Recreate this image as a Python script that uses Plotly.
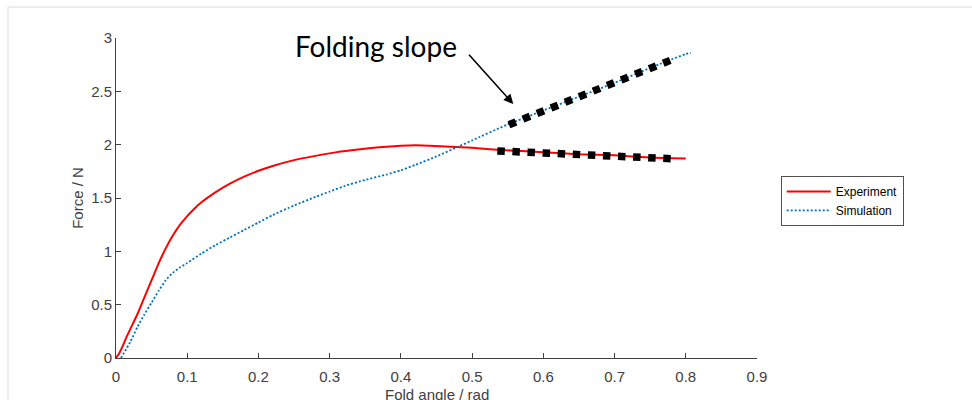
import plotly.graph_objects as go

# Experiment (red)
exp_x = [0, 0.005, 0.01, 0.015, 0.02, 0.03, 0.04, 0.05, 0.06, 0.07, 0.08, 0.09, 0.1, 0.11, 0.12,
         0.14, 0.16, 0.18, 0.2, 0.22, 0.25, 0.28, 0.31, 0.34, 0.37, 0.4, 0.42, 0.44, 0.47, 0.5,
         0.54, 0.6, 0.65, 0.7, 0.75, 0.8]
exp_y = [0, 0.05, 0.12, 0.2, 0.27, 0.41, 0.57, 0.73, 0.89, 1.03, 1.15, 1.25, 1.33, 1.4, 1.46,
         1.555, 1.635, 1.7, 1.755, 1.8, 1.855, 1.895, 1.93, 1.955, 1.975, 1.99, 1.995, 1.99, 1.98,
         1.97, 1.95, 1.93, 1.91, 1.9, 1.88, 1.87]

# Simulation (blue dotted)
sim_x = [0.007, 0.02, 0.03, 0.04, 0.05, 0.06, 0.07, 0.08, 0.09, 0.1, 0.12, 0.14, 0.16, 0.18, 0.2,
         0.22, 0.25, 0.28, 0.3, 0.32, 0.35, 0.38, 0.4, 0.42, 0.45, 0.48, 0.5, 0.55, 0.6, 0.65,
         0.7, 0.75, 0.8, 0.807]
sim_y = [0, 0.15, 0.29, 0.41, 0.52, 0.63, 0.73, 0.8, 0.85, 0.89, 0.98, 1.06, 1.13, 1.2, 1.27,
         1.34, 1.43, 1.51, 1.56, 1.61, 1.67, 1.72, 1.76, 1.81, 1.89, 1.98, 2.04, 2.19, 2.32, 2.45,
         2.58, 2.72, 2.85, 2.86]

# Folding slope segments (black square dots)
slope_sim_x = [0.5517, 0.7784]
slope_sim_y = [2.187, 2.791]
slope_exp_x = [0.5354, 0.7793]
slope_exp_y = [1.9416, 1.8684]

x_ticks = [0, 0.1, 0.2, 0.3, 0.4, 0.5, 0.6, 0.7, 0.8, 0.9]
x_tick_labels = ["0", "0.1", "0.2", "0.3", "0.4", "0.5", "0.6", "0.7", "0.8", "0.9"]
y_ticks = [0, 0.5, 1, 1.5, 2, 2.5, 3]
y_tick_labels = ["0", "0.5", "1", "1.5", "2", "2.5", "3"]

fig = go.Figure()
fig.add_trace(go.Scatter(x=exp_x, y=exp_y, mode="lines", name="Experiment",
                         line=dict(color="#FF0000", width=2, shape="spline", smoothing=0.5)))
fig.add_trace(go.Scatter(x=sim_x, y=sim_y, mode="lines", name="Simulation",
                         line=dict(color="#0072BD", width=1.8, dash="2px,2px",
                                   shape="spline", smoothing=0.5)))
fig.add_trace(go.Scatter(x=slope_sim_x, y=slope_sim_y, mode="lines", showlegend=False,
                         line=dict(color="black", width=7.5, dash="7.5px,7.6px")))
fig.add_trace(go.Scatter(x=slope_exp_x, y=slope_exp_y, mode="lines", showlegend=False,
                         line=dict(color="black", width=7.5, dash="7.5px,7.6px")))

axis_font = dict(family="Liberation Sans, Arial, sans-serif", size=15, color="#404040")

fig.update_layout(
    width=972, height=400,
    margin=dict(l=116, r=215, t=38, b=42, autoexpand=False),
    paper_bgcolor="white", plot_bgcolor="white",
    showlegend=True,
    legend=dict(x=1.037, y=0.569, xanchor="left", yanchor="top",
                bordercolor="#505050", borderwidth=1, bgcolor="white",
                font=dict(family="Liberation Sans, Arial, sans-serif", size=12, color="black"),
                tracegroupgap=0, itemwidth=44),
    xaxis=dict(range=[0, 0.9], tickvals=x_ticks, ticktext=x_tick_labels, automargin=False,
               showgrid=False, zeroline=False, showline=True, linecolor="#404040", linewidth=1,
               ticks="inside", ticklen=5, tickcolor="#404040", tickfont=axis_font,
               ticklabelstandoff=5),
    yaxis=dict(range=[0, 3], tickvals=y_ticks, ticktext=y_tick_labels, automargin=False,
               showgrid=False, zeroline=False, showline=True, linecolor="#404040", linewidth=1,
               ticks="inside", ticklen=5, tickcolor="#404040", tickfont=axis_font,
               title=dict(text="Force / N", font=axis_font, standoff=3)),
)

# x-axis title (partly cut at the bottom edge, as in the original)
fig.add_annotation(x=0.5, y=-0.115, xref="paper", yref="paper", text="Fold angle / rad",
                   showarrow=False, xanchor="center", yanchor="middle", font=axis_font)

fig.add_annotation(x=0.3657, y=2.925, xref="x", yref="y", text="Folding slope",
                   showarrow=False, font=dict(family="Lato, sans-serif", size=28, color="black"))
fig.add_annotation(x=0.5578, y=2.381, ax=0.4938, ay=2.857, xref="x", yref="y",
                   axref="x", ayref="y", text="", showarrow=True, arrowhead=2,
                   arrowsize=1.2, arrowwidth=1.6, arrowcolor="black")

# light frame of the original screenshot
fig.add_shape(type="line", xref="paper", yref="paper", x0=-108/641, x1=856/641,
              y0=(358-7)/320, y1=(358-7)/320, line=dict(color="#e6e6e6", width=1.5))
fig.add_shape(type="line", xref="paper", yref="paper", x0=-108/641, x1=-108/641,
              y0=(358-7)/320, y1=-42/320, line=dict(color="#e6e6e6", width=1.5))

fig.write_html("out.html")
